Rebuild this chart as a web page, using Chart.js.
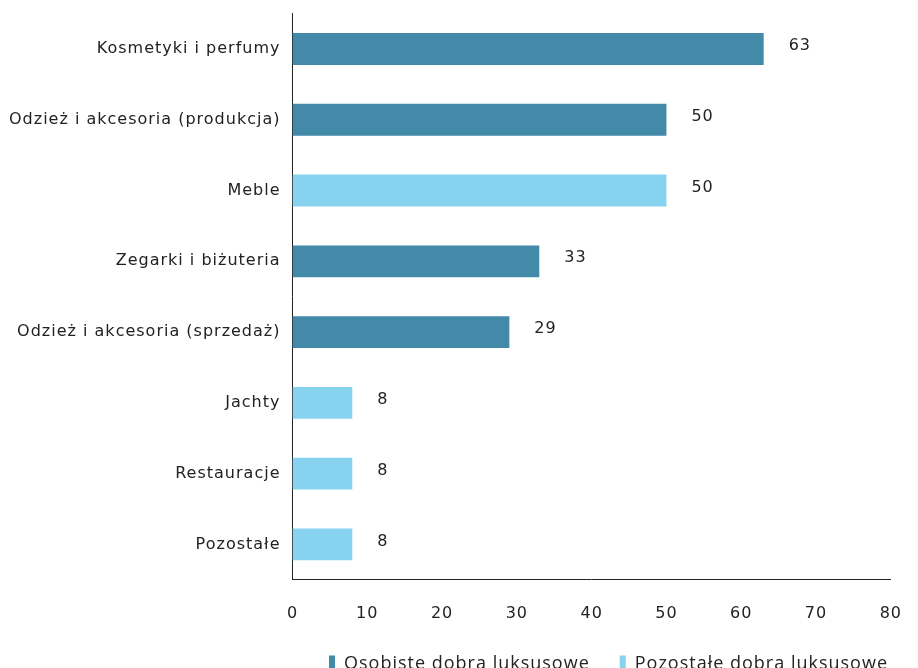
<!DOCTYPE html>
<html>
<head>
<meta charset="utf-8">
<script src="https://cdn.jsdelivr.net/npm/chart.js@4"></script>
<style>
  html, body { margin: 0; padding: 0; background: #fff; }
  #wrap { width: 918px; height: 668px; }
</style>
</head>
<body>
<div id="wrap"><canvas id="luxuryChart" width="918" height="668"></canvas></div>
<script>
var categories = ['Kosmetyki i perfumy', 'Odzież i akcesoria (produkcja)', 'Meble', 'Zegarki i biżuteria',
    'Odzież i akcesoria (sprzedaż)', 'Jachty', 'Restauracje', 'Pozostałe'];
var personalValues = [63, 50, null, 33, 29, null, null, null];
var otherValues = [null, null, 50, null, null, 8, 8, 8];
var seriesNames = ['Osobiste dobra luksusowe', 'Pozostałe dobra luksusowe'];
var xTicks = [0, 10, 20, 30, 40, 50, 60, 70, 80];

var fontFamily = "'DejaVu Sans', sans-serif";
var legendFont = "'Open Sans', 'Noto Sans', sans-serif";

// wider letters, the original font is quite wide
var spacing = {
    id: 'spacing',
    beforeLayout: function(chart) { chart.ctx.letterSpacing = '1px'; },
    beforeDraw: function(chart) { chart.ctx.letterSpacing = '1px'; },
    beforeDatasetsDraw: function(chart) { chart.ctx.letterSpacing = '1px'; }
};

var valueLabels = {
    id: 'valueLabels',
    afterDatasetsDraw: function(chart) {
        var ctx = chart.ctx;
        ctx.save();
        ctx.font = '16px ' + fontFamily;
        ctx.fillStyle = '#222';
        ctx.textAlign = 'left';
        ctx.textBaseline = 'middle';
        chart.data.datasets.forEach(function(ds, i) {
            chart.getDatasetMeta(i).data.forEach(function(bar, j) {
                var v = ds.data[j];
                if (v === null || v === undefined) return;
                ctx.fillText(v, bar.x + 25, bar.y - 3);
            });
        });
        ctx.restore();
    }
};

new Chart(document.getElementById('luxuryChart').getContext('2d'), {
    type: 'bar',
    data: {
        labels: categories,
        datasets: [{
            label: seriesNames[0],
            data: personalValues,
            backgroundColor: '#438aa8',
            barPercentage: 0.9,
            categoryPercentage: 0.5
        }, {
            label: seriesNames[1],
            data: otherValues,
            backgroundColor: '#87d3ef',
            barPercentage: 0.9,
            categoryPercentage: 0.5
        }]
    },
    options: {
        indexAxis: 'y',
        responsive: false,
        animation: false,
        layout: { padding: { top: 2, right: 0, left: 5, bottom: -15 } },
        scales: {
            x: {
                min: 0,
                max: 80,
                afterBuildTicks: function(axis) {
                    axis.ticks = xTicks.map(function(v) { return { value: v }; });
                },
                afterFit: function(axis) { axis.height -= 14; },
                grid: { display: false },
                border: { display: true, color: '#222', width: 1 },
                ticks: { color: '#222', padding: 16, font: { size: 16, family: fontFamily } }
            },
            y: {
                stacked: true,
                grid: { display: false },
                border: { display: true, color: '#222', width: 1 },
                ticks: { color: '#222', padding: 4, font: { size: 16, family: fontFamily } }
            }
        },
        plugins: {
            legend: {
                position: 'bottom',
                align: 'end',
                labels: {
                    boxWidth: 6,
                    boxHeight: 17,
                    padding: 30,
                    color: '#222',
                    font: { size: 18, family: legendFont }
                }
            },
            tooltip: { enabled: false }
        }
    },
    plugins: [spacing, valueLabels]
});
</script>
</body>
</html>
